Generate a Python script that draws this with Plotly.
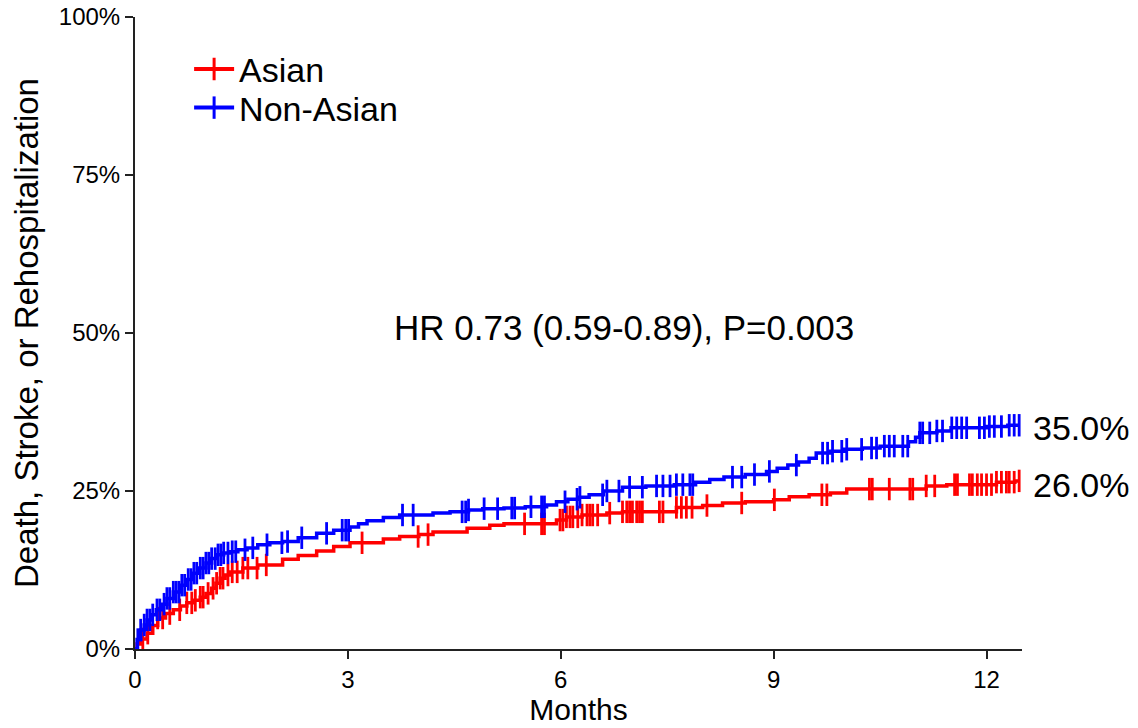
import numpy as np
import plotly.graph_objects as go

# ---- data (months, cumulative incidence %) ----
nonasian_t = [0, 0.03, 0.08, 0.13, 0.17, 0.23, 0.3, 0.37, 0.45, 0.54, 0.63, 0.72, 0.82, 0.91, 1.0,
              1.08, 1.15, 1.25, 1.34, 1.45, 1.58, 1.73, 1.9, 2.08, 2.3, 2.56, 2.8, 3.03, 3.15, 3.27,
              3.5, 3.73, 4.2, 4.44, 4.7, 4.9, 5.2, 5.5, 5.8, 5.94, 6.1, 6.25, 6.4, 6.6, 6.87,
              7.2, 7.6, 7.9, 8.1, 8.3, 8.6, 8.9, 9.05, 9.2, 9.35, 9.5, 9.6, 9.8, 10.0, 10.25,
              10.5, 10.9, 11.0, 11.06, 11.3, 11.5, 12.0, 12.3]
nonasian_v = [0, 1.5, 3.0, 3.8, 4.6, 5.4, 6.2, 7.1, 8.0, 9.0, 10.1, 11.0, 12.0, 12.8, 13.6,
              14.3, 14.9, 15.2, 15.4, 15.7, 16.0, 16.5, 16.8, 17.0, 17.6, 18.3, 18.8, 19.3, 19.8, 20.3,
              20.8, 21.2, 21.5, 21.7, 22.0, 22.2, 22.3, 22.5, 22.8, 23.3, 23.7, 24.0, 24.4, 25.0, 25.6,
              25.8, 26.0, 26.4, 26.8, 27.2, 27.6, 28.1, 28.6, 29.1, 29.6, 30.2, 31.0, 31.3, 31.6, 31.8,
              32.1, 32.8, 33.5, 34.2, 34.5, 35.0, 35.2, 35.4]

asian_t = [0, 0.03, 0.08, 0.17, 0.25, 0.32, 0.43, 0.54, 0.64, 0.73, 0.82, 0.92, 1.0, 1.08, 1.14,
           1.2, 1.27, 1.34, 1.52, 1.73, 2.08, 2.3, 2.56, 2.8, 3.03, 3.5, 3.73, 4.0, 4.2, 4.68,
           5.0, 5.2, 5.94, 6.08, 6.3, 6.65, 6.87, 7.63, 8.0, 8.28, 8.6, 9.0, 9.22, 9.5, 9.8,
           10.03, 11.15, 11.44, 12.14, 12.4]
asian_v = [0, 0.8, 1.6, 2.5, 3.7, 4.9, 5.6, 6.2, 6.8, 7.3, 7.7, 8.2, 8.8, 9.6, 10.4,
           11.2, 11.7, 12.2, 12.8, 13.3, 14.2, 14.8, 15.5, 16.2, 16.8, 17.4, 17.8, 18.1, 18.5, 19.1,
           19.6, 19.8, 20.4, 20.9, 21.2, 21.5, 21.7, 22.4, 22.7, 23.1, 23.3, 23.6, 24.1, 24.4, 24.7,
           25.3, 25.8, 26.0, 26.4, 26.6]

nonasian_censor = [0.04, 0.08, 0.13, 0.17, 0.21, 0.25, 0.31, 0.35, 0.41, 0.45, 0.49, 0.54, 0.58, 0.62,
                   0.66, 0.70, 0.75, 0.79, 0.83, 0.87, 0.92, 0.96, 1.00, 1.04, 1.08, 1.13, 1.17, 1.21,
                   1.25, 1.31, 1.37, 1.42, 1.55, 1.66, 1.86, 2.07, 2.15, 2.35, 2.70, 2.92, 2.97, 3.01,
                   3.77, 3.92, 4.61, 4.66, 4.70, 4.92, 5.11, 5.31, 5.35, 5.58, 5.73, 5.77, 6.06, 6.23,
                   6.27, 6.59, 6.65, 6.82, 6.97, 7.15, 7.35, 7.44, 7.54, 7.63, 7.72, 7.82, 7.86, 8.42,
                   8.55, 8.73, 8.94, 9.32, 9.69, 9.76, 9.83, 9.96, 10.03, 10.24, 10.38, 10.45, 10.56,
                   10.63, 10.70, 10.82, 10.89, 11.06, 11.10, 11.20, 11.30, 11.38, 11.51, 11.58, 11.65,
                   11.72, 11.90, 11.97, 12.04, 12.11, 12.21, 12.32, 12.39, 12.46]
asian_censor = [0.11, 0.18, 0.32, 0.39, 0.49, 0.63, 0.73, 0.80, 0.85, 0.92, 0.96, 1.03, 1.10, 1.15,
                1.20, 1.24, 1.31, 1.37, 1.44, 1.52, 1.59, 1.72, 1.85, 3.20, 3.99, 4.13, 5.49, 5.73,
                5.77, 5.99, 6.03, 6.08, 6.13, 6.17, 6.24, 6.30, 6.37, 6.41, 6.45, 6.52, 6.69, 6.87,
                6.93, 6.97, 7.01, 7.07, 7.11, 7.15, 7.39, 7.44, 7.63, 7.70, 7.77, 7.85, 8.06, 8.55,
                9.01, 9.68, 9.75, 10.35, 10.39, 10.63, 10.92, 10.96, 11.15, 11.27, 11.55, 11.59,
                11.76, 11.80, 11.87, 11.93, 12.00, 12.07, 12.14, 12.21, 12.28, 12.32, 12.39, 12.46]

groups = ["Asian", "Non-Asian"]
colors = ["#FF0000", "#0000FF"]
final_labels = ["26.0%", "35.0%"]
hr_text = "HR 0.73 (0.59-0.89), P=0.003"
x_ticks = [0, 3, 6, 9, 12]
y_ticks = [0, 25, 50, 75, 100]
y_tick_labels = ["0%", "25%", "50%", "75%", "100%"]

FONT = "Arial"

fig = go.Figure()
series = [(asian_t, asian_v, asian_censor), (nonasian_t, nonasian_v, nonasian_censor)]
legend_ids = ["legend", "legend2"]
for name, col, (t, v, c), lg in zip(groups, colors, series, legend_ids):
    t = np.array(t, float)
    v = np.array(v, float)
    c = np.array(c, float)
    end = max(c.max(), t.max())
    tx = np.append(t, end)
    vy = np.append(v, v[-1])
    fig.add_trace(go.Scatter(x=tx, y=vy, mode="lines", line=dict(color=col, width=3.5, shape="hv"),
                             name=name, legendgroup=name, showlegend=False, hoverinfo="skip"))
    idx = np.searchsorted(t, c, side="right") - 1
    cy = v[idx]
    fig.add_trace(go.Scatter(x=c, y=cy, mode="markers",
                             marker=dict(symbol="line-ns-open", size=16, color=col,
                                         line=dict(color=col, width=2.8)),
                             name=name, legendgroup=name, showlegend=False, hoverinfo="skip"))
    fig.add_trace(go.Scatter(x=[None], y=[None], mode="lines+markers", name=name,
                             line=dict(color=col, width=4),
                             marker=dict(symbol="line-ns-open", size=16, color=col,
                                         line=dict(color=col, width=3)),
                             legendgroup=name, legend=lg))

for lab in final_labels:
    fig.add_annotation(x=1.01, xref="paper", y=float(lab.rstrip("%")), yref="y",
                       text=lab, showarrow=False, xanchor="left", yanchor="middle",
                       font=dict(size=34, color="black", family=FONT))

fig.add_annotation(x=6.89, y=50.8, text=hr_text, showarrow=False,
                   font=dict(size=35, color="black", family=FONT))

legend_style = dict(xanchor="left", yanchor="middle", font=dict(size=34, family=FONT, color="black"),
                    bgcolor="rgba(0,0,0,0)", itemwidth=40)

fig.update_layout(
    width=1138, height=728,
    autosize=False,
    margin=dict(l=135, r=116, t=17, b=79, autoexpand=False),
    plot_bgcolor="white", paper_bgcolor="white",
    font=dict(family=FONT, color="black", size=20),
    showlegend=True,
    legend=dict(x=0.061, y=0.917, **legend_style),
    legend2=dict(x=0.061, y=0.856, **legend_style),
    xaxis=dict(range=[0, 12.5], tickmode="array", tickvals=x_ticks, ticktext=[str(v) for v in x_ticks],
               ticks="outside", ticklen=8, tickwidth=2,
               tickcolor="#222", showline=True, linecolor="#222", linewidth=2,
               showgrid=False, zeroline=False,
               tickfont=dict(size=24, family=FONT, color="black"),
               title=dict(text="Months", font=dict(size=30, family=FONT, color="black"), standoff=6)),
    yaxis=dict(range=[0, 100], tickmode="array", tickvals=y_ticks, ticktext=y_tick_labels,
               ticks="outside", ticklen=8,
               tickwidth=2, tickcolor="#222", showline=True, linecolor="#222", linewidth=2,
               showgrid=False, zeroline=False,
               tickfont=dict(size=24, family=FONT, color="black"),
               title=dict(text="Death, Stroke, or Rehospitalization",
                          font=dict(size=33, family=FONT, color="black"), standoff=10)),
)

fig.write_html("out.html", config={"displayModeBar": False},
               post_script="document.body.style.margin='0';")
